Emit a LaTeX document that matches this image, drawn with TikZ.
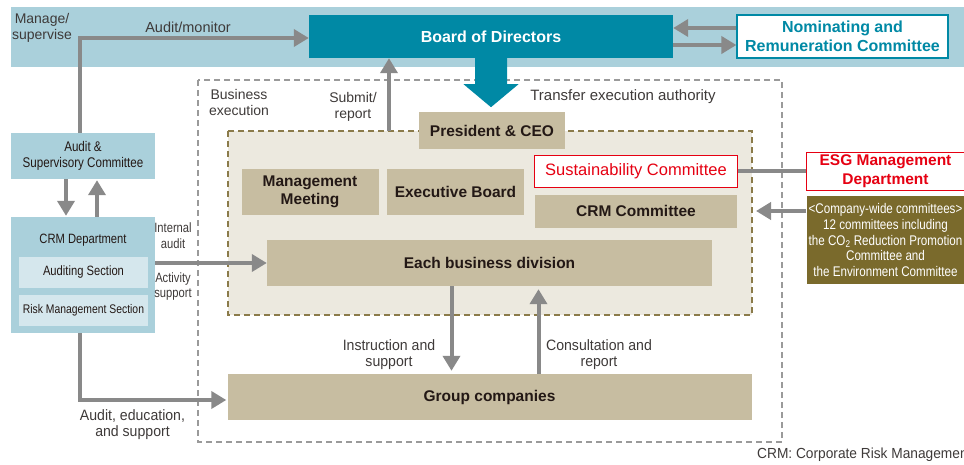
\documentclass[tikz,border=0pt]{standalone}
\usepackage{fontspec}
\setmainfont{Liberation Sans}
\newfontfamily\cond{Liberation Sans}[FakeStretch=0.83]
\newfontfamily\semicond{Liberation Sans}[FakeStretch=0.94]
\usetikzlibrary{arrows.meta,calc}
\definecolor{bandblue}{HTML}{AAD0DB}
\definecolor{bodteal}{HTML}{0089A5}
\definecolor{arrgray}{HTML}{898989}
\definecolor{tanfill}{HTML}{C7BDA1}
\definecolor{innerbg}{HTML}{ECE9DF}
\definecolor{cwolive}{HTML}{7A6A2C}
\definecolor{dasholive}{HTML}{8B7B4A}
\definecolor{esgred}{HTML}{E60012}
\definecolor{secblue}{HTML}{D5E7ED}
\definecolor{dark}{HTML}{231815}
\definecolor{lbltext}{HTML}{3E3A39}
\definecolor{dashgray}{HTML}{9A9A9A}
\begin{document}
\begin{tikzpicture}[x=1pt,y=-1pt,
  box/.style={inner sep=0pt, align=center},
  tanbox/.style={box, fill=tanfill, text=dark, font=\bfseries\fontsize{15.5}{18.5}\selectfont},
  bluebox/.style={box, fill=bandblue, text=dark, font=\cond\fontsize{14}{15.5}\selectfont},
  secbox/.style={box, fill=secblue, text=dark, font=\cond\fontsize{13.5}{15.5}\selectfont},
  arr/.style={draw=arrgray, line width=4pt, -{Triangle[length=15pt,width=17pt]}},
  ln/.style={draw=arrgray, line width=4pt},
  lbl/.style={text=lbltext, align=center, inner sep=0pt, font=\fontsize{14}{16}\selectfont},
  clbl/.style={text=lbltext, align=center, inner sep=0pt, font=\cond\fontsize{13.5}{15.5}\selectfont},
  slbl/.style={text=lbltext, align=center, inner sep=0pt, font=\semicond\fontsize{15}{16}\selectfont}
]
\useasboundingbox (0,0) rectangle (964,464);
\clip (0,0) rectangle (964,464);

% top band
\fill[bandblue] (11,7) rectangle (964,67);
% business execution frame
\draw[dashgray, line width=1.3pt, dash pattern=on 6pt off 4pt] (198,80) rectangle (782,442);
% inner executive frame
\draw[fill=innerbg, draw=dasholive, line width=1.6pt, dash pattern=on 6pt off 4pt] (228,131) rectangle (752,315);

% nodes
\node[box, fill=bodteal, text=white, font=\bfseries\fontsize{16}{19}\selectfont,
      minimum width=364pt, minimum height=43pt] (bod) at (491,36.5) {Board of Directors};
\node[box, fill=white, draw=bodteal, line width=1.2pt, text=bodteal,
      font=\bfseries\fontsize{16}{19.5}\selectfont,
      minimum width=211pt, minimum height=43pt] (nrc) at (842.5,36.5) {Nominating and\\Remuneration Committee};

\node[tanbox, minimum width=146pt, minimum height=37pt] (pres) at (492,130.5) {President \& CEO};
\node[tanbox, minimum width=137pt, minimum height=46pt] (mm) at (310,192) {Management\\Meeting};
\node[tanbox, minimum width=137pt, minimum height=46pt] (eb) at (455.5,192) {Executive Board};
\node[box, fill=white, draw=esgred, line width=1pt, text=esgred,
      font=\fontsize{16.5}{19}\selectfont,
      minimum width=203pt, minimum height=32pt] (sus) at (636,171) {Sustainability Committee};
\node[tanbox, minimum width=202pt, minimum height=33pt] (crmc) at (636,211) {CRM Committee};
\node[tanbox, minimum width=445pt, minimum height=46pt] (ebd) at (489.5,263) {Each business division};
\node[tanbox, minimum width=524pt, minimum height=46pt] (grp) at (489.5,397) {Group companies};

\node[box, fill=white, draw=esgred, line width=1pt, text=esgred,
      font=\bfseries\fontsize{15.5}{18.5}\selectfont,
      minimum width=158pt, minimum height=38pt] (esg) at (885.5,171) {ESG Management\\Department};
\node[box, fill=cwolive, text=white, font=\cond\fontsize{14}{15.8}\selectfont,
      minimum width=158pt, minimum height=88pt] (cw) at (885.5,240)
      {<Company-wide committees>\\12 committees including\\the CO\textsubscript{2} Reduction Promotion\\Committee and\\the Environment Committee};

\node[bluebox, minimum width=144pt, minimum height=46pt] (asc) at (83,156) {Audit \&\\Supervisory Committee};
\node[bluebox, minimum width=144pt, minimum height=116pt] (crm) at (83,275) {};
\node[box, text=dark, font=\cond\fontsize{13.5}{15.5}\selectfont] (crmt) at (83,240) {CRM Department};
\node[secbox, minimum width=129pt, minimum height=31pt] (aud) at (83.5,272.5) {Auditing Section};
\node[secbox, font=\cond\fontsize{12.5}{15}\selectfont, minimum width=129pt, minimum height=31pt] (risk) at (83.5,310.5) {Risk Management Section};

% labels
\node[lbl] (lms) at (42,28) {Manage/\\supervise};
\node[lbl, font=\fontsize{14.5}{16}\selectfont] (lam) at (188,27) {Audit/monitor};
\node[lbl] (lbe) at (239,102) {Business\\execution};
\node[lbl] (lsr) at (353,107) {Submit/\\report};
\node[lbl, font=\fontsize{15}{17}\selectfont] (lte) at (623,97) {Transfer execution authority};
\node[clbl] (lia) at (173,235.5) {Internal\\audit};
\node[clbl] (las) at (173,286.5) {Activity\\support};
\node[slbl] (lis) at (389,355) {Instruction and\\support};
\node[slbl] (lcr) at (599,355) {Consultation and\\report};
\node[slbl, font=\semicond\fontsize{15}{15.5}\selectfont] (lae) at (132.5,424.5) {Audit, education,\\and support};
\node[slbl, anchor=west, font=\semicond\fontsize{14.6}{16}\selectfont] (lfn) at (757,455) {CRM: Corporate Risk Management};

% coordinates
\coordinate (amc) at (80,38);
\coordinate (subm) at (389,131);
\coordinate (cwend) at (756,211);
\coordinate (gcorner) at (80,400);

% big transfer arrow
\fill[bodteal] ($(bod.south)+(-16,0)$) -- ($(bod.south)+(16,0)$) -- ($(bod.south)+(16,26)$)
  -- ($(bod.south)+(27.5,26)$) -- ($(bod.south)+(0,49)$) -- ($(bod.south)+(-27.5,26)$)
  -- ($(bod.south)+(-16,26)$) -- cycle;

% connectors
\draw[arr] (asc.north -| amc) -- (amc) -- (amc -| bod.west);
\draw[arr] ($(nrc.west)+(0,-8.5)$) -- ($(bod.east)+(0,-8.5)$);
\draw[arr] ($(bod.east)+(0,8.5)$) -- ($(nrc.west)+(0,8.5)$);
\draw[arr] (subm) -- (subm |- bod.south);
\draw[arr, shorten >=1pt] ([xshift=-17pt]asc.south) -- ([xshift=-17pt]crm.north);
\draw[arr, shorten >=1pt] ([xshift=14pt]crm.north) -- ([xshift=14pt]asc.south);
\draw[arr] (crm.east |- ebd.west) -- (ebd.west);
\draw[arr, shorten >=1pt] (crm.south -| gcorner) -- (gcorner) -- (gcorner -| grp.west);
\draw[arr, shorten >=3pt] ([xshift=-38pt]ebd.south) -- ([xshift=-38pt]grp.north);
\draw[arr, shorten >=3pt] ([xshift=49pt]grp.north) -- ([xshift=49pt]ebd.south);
\draw[ln] (sus.east) -- (esg.west);
\draw[arr] (cw.west |- cwend) -- (cwend);
\end{tikzpicture}
\end{document}
